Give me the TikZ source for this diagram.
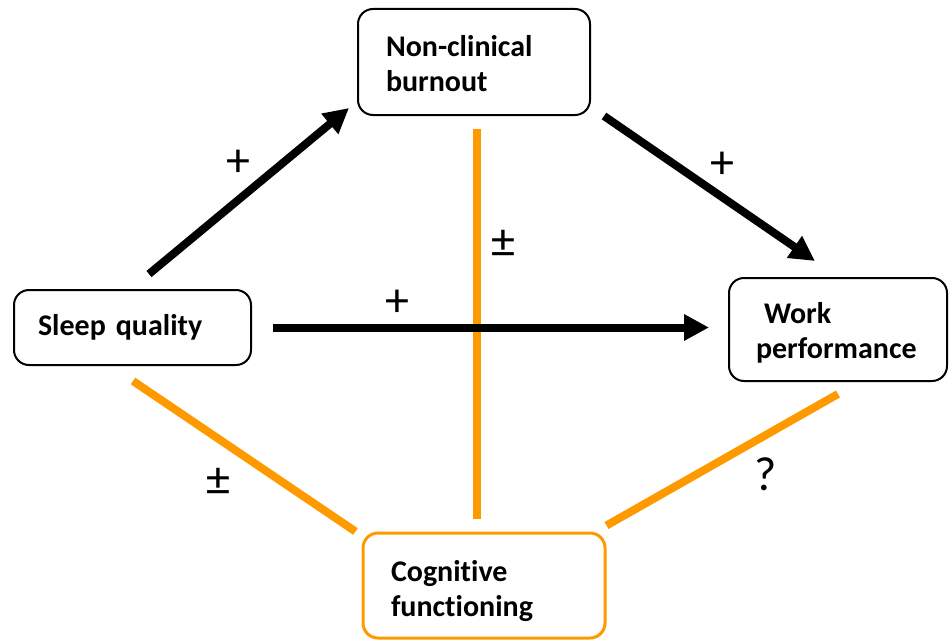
\documentclass[tikz,border=0pt]{standalone}
\usepackage{fontspec}
\setmainfont{Carlito}[Ligatures=NoCommon]
\usetikzlibrary{arrows.meta,calc}
\definecolor{orng}{RGB}{255,153,0}
\tikzset{
  box/.style={draw=black, line width=2pt, rounded corners=15pt, align=left,
    font=\bfseries\fontsize{30}{35}\selectfont, inner sep=0pt},
  obox/.style={box, draw=orng, line width=3pt},
  arr/.style={line width=8pt, -{Triangle[length=25pt,width=25pt]}},
  oline/.style={line width=8pt, draw=orng},
  lbl/.style={font=\fontsize{48}{50}\selectfont, inner sep=0pt}
}
\begin{document}
\begin{tikzpicture}[x=1pt,y=-1pt]
\useasboundingbox (0,0) rectangle (949,642);
\node[box, minimum width=232pt, minimum height=106pt, text width=176pt] (burnout) at (474,62) {\rule{0pt}{25pt}Non-clinical\\burnout};
\node[box, minimum width=237pt, minimum height=75pt, text width=189pt] (sleep) at (132.5,327.5) {Sleep quality};
\node[box, minimum width=218pt, minimum height=103pt, text width=164pt] (work) at (838,329.5) {\rule{0pt}{27pt}\hspace*{8pt}Work\\performance};
\node[obox, minimum width=242pt, minimum height=105pt, text width=186pt] (cog) at (484,585.5) {\rule{0pt}{33pt}Cognitive\\functioning};

\coordinate (a1) at ($(sleep.north)+(16.5,-15)$);
\coordinate (a2) at ($(burnout.south west)+(-8,-8)$);
\coordinate (b1) at ($(burnout.south east)+(13,0)$);
\coordinate (b2) at ($(work.north)+(-23,-16)$);
\coordinate (c1) at ($(sleep.east)+(21,0)$);
\coordinate (c2) at ($(work.west)+(-19,-2)$);
\coordinate (d1) at ($(burnout.south)+(3,13)$);
\coordinate (d2) at ($(cog.north)+(-7,-13)$);
\coordinate (e1) at ($(sleep.south)+(0.5,15)$);
\coordinate (e2) at ($(cog.north west)+(-6,0)$);
\coordinate (f1) at ($(work.south)+(0,12)$);
\coordinate (f2) at ($(cog.north east)+(0,-6)$);

\draw[oline] (d1) -- (d2);
\draw[oline] (e1) -- (e2);
\draw[oline] (f1) -- (f2);
\draw[arr] (a1) -- (a2);
\draw[arr] (b1) -- (b2);
\draw[arr] (c1) -- (c2);

\node[lbl] (l1) at (238,163) {+};
\node[lbl] (l2) at (722,165) {+};
\node[lbl] (l3) at (397,303) {+};
\node[lbl] (l4) at (503,244) {±};
\node[lbl] (l5) at (218,482) {±};
\node[lbl] (l6) at (766,474) {?};
\end{tikzpicture}
\end{document}
